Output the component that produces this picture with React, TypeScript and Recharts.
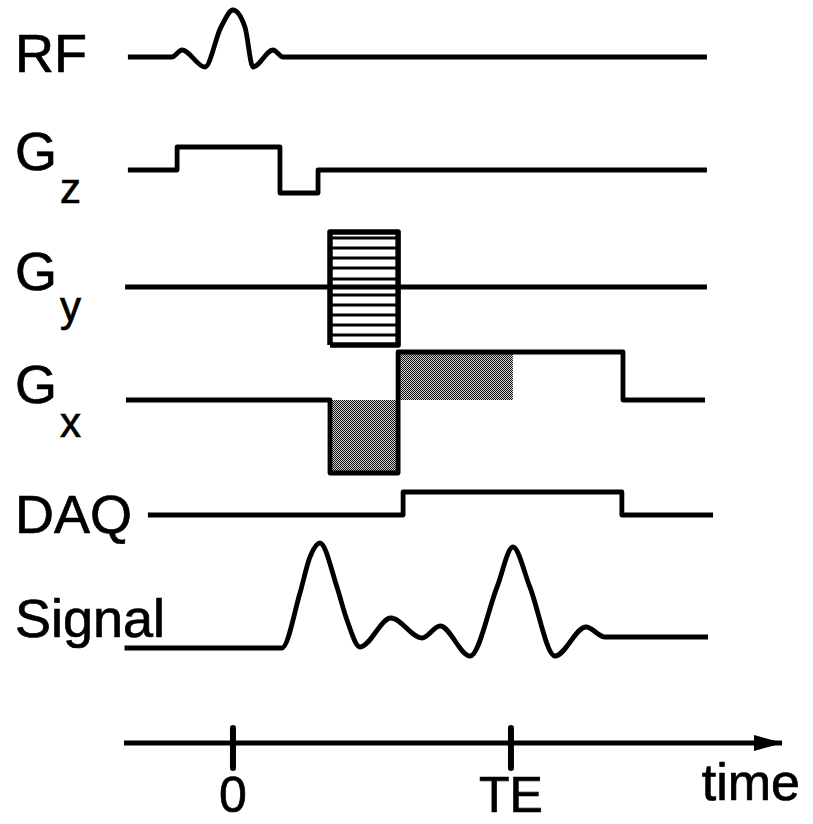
import { ComposedChart, Line, Area, XAxis, YAxis, ReferenceDot, Label } from "recharts";

// time axis: 0 = centre of the RF pulse, TE = echo time (arbitrary units)
const TE = 10;
const timeRange = [-3.92, 19.75];
const timeTicks = [0, TE];

// channel rows, top to bottom
const channelNames = ["RF", "G", "G", "G", "DAQ", "Signal"];
const channelSubs = ["", "z", "y", "x", "", ""];

// RF excitation (sinc-like pulse)
const rfTime = [-3.78, -2.2, -1.83, -1.01, -0.43, 0, 0.43, 0.72, 1.44, 1.8, 17.05];
const rfAmp = [0, 0, 7, -10, 30, 47, 30, -10, 7, 0, 0];

// slice select gradient
const gzTime = [-3.78, -2.01, -2.01, 1.69, 1.69, 3.06, 3.06, 17.05];
const gzAmp = [0, 0, 23, 23, -23, -23, 0, 0];

// phase encode gradient
const gyTime = [-3.88, 17.05];
const gyAmp = [0, 0];
const gyLobe = [3.49, 5.94];
const gyLimits = [-58, 55];
const gySteps = [49, 39, 29, 19, 8, 0, -8, -18, -28, -38, -48];

// readout gradient
const gxTime = [-3.85, 3.49, 3.49, 5.94, 5.94, 14.03, 14.03, 16.98];
const gxAmp = [0, 0, -73, -73, 48, 48, 0, 0];
const gxShadeNeg = [3.49, 5.94, -73];
const gxShadePos = [5.94, 10.07, 48];

// data acquisition window
const daqTime = [-3.06, 6.12, 6.12, 13.99, 13.99, 17.27];
const daqAmp = [0, 0, 23, 23, 0, 0];

// received signal (FID + echo)
const sigTime = [-3.9, 1.76, 2.41, 2.77, 3.13, 3.74, 4.1, 4.57, 5.68, 6.8, 7.45, 8.53, 9.5, 10.07, 10.68, 11.58, 12.7, 13.38, 17.09];
const sigAmp = [0, 0, 55, 91, 105, 61, 28, 1, 30, 10, 22, -8, 61, 101, 61, -8, 21, 11, 11];

// layout
const W = 813;
const H = 824;
const PLOT_BOTTOM = 743;
const ROW_Y = [57, 170, 287, 400, 515, 648];
const LABEL_DY = [15, 0, 3, 3, 18, -11];
const SUB_DY = [0, 33, 31, 34, 0, 0];
const FONT = "'Liberation Sans', Arial, Helvetica, sans-serif";
const LW = 4.8;

const series = (time: number[], amp: number[], row: number) =>
  time.map((t, i) => ({ t, v: ROW_Y[row] - amp[i] }));

const rfData = series(rfTime, rfAmp, 0);
const gzData = series(gzTime, gzAmp, 1);
const gyData = series(gyTime, gyAmp, 2);
const gxData = series(gxTime, gxAmp, 3);
const daqData = series(daqTime, daqAmp, 4);
const sigData = series(sigTime, sigAmp, 5);

const gyBox = [
  { t: gyLobe[0], v: ROW_Y[2] - gyLimits[0] },
  { t: gyLobe[0], v: ROW_Y[2] - gyLimits[1] },
  { t: gyLobe[1], v: ROW_Y[2] - gyLimits[1] },
  { t: gyLobe[1], v: ROW_Y[2] - gyLimits[0] },
  { t: gyLobe[0], v: ROW_Y[2] - gyLimits[0] },
];
const gyStripes = gySteps.flatMap((s) => [
  { t: gyLobe[0], v: ROW_Y[2] - s },
  { t: gyLobe[1], v: ROW_Y[2] - s },
  { t: gyLobe[1], v: null },
]);

const shade = (d: number[]) => [
  { t: d[0], v: [ROW_Y[3], ROW_Y[3] - d[2]] },
  { t: d[1], v: [ROW_Y[3], ROW_Y[3] - d[2]] },
];
const gxNegData = shade(gxShadeNeg);
const gxPosData = shade(gxShadePos);

const textStyle = { fontFamily: FONT, fill: "#000", stroke: "#000", strokeWidth: 0.7 };

const ChannelTick = (props: any) => {
  const i = ROW_Y.indexOf(props.payload.value);
  if (i < 0) return null;
  return (
    <text x={15} y={props.y + LABEL_DY[i]} fontSize={54} {...textStyle}>
      {channelNames[i]}
      {channelSubs[i] ? (
        <tspan dx={3} dy={SUB_DY[i]} fontSize={42}>
          {channelSubs[i]}
        </tspan>
      ) : null}
    </text>
  );
};

const TimeTick = (props: any) => {
  const { x, y, payload } = props;
  const label = payload.value === TE ? "TE" : String(payload.value);
  return (
    <g>
      <line x1={x} x2={x} y1={y - 15} y2={y + 25} stroke="#000" strokeWidth={6} strokeLinecap="round" />
      <text x={x} y={y + 69} textAnchor="middle" fontSize={50} {...textStyle}>
        {label}
      </text>
    </g>
  );
};

const TimeLabel = (props: any) => {
  const vb = props.viewBox;
  return (
    <text x={vb.x + vb.width + 18} y={vb.y + 57} textAnchor="end" fontSize={52} {...textStyle}>
      time
    </text>
  );
};

const Arrow = (props: any) => {
  const { cx, cy } = props;
  return <polygon points={`${cx + 1},${cy} ${cx - 28},${cy - 8} ${cx - 28},${cy + 8}`} fill="#000" />;
};

const lineProps = {
  dataKey: "v",
  stroke: "#000",
  strokeWidth: LW,
  dot: false,
  activeDot: false,
  isAnimationActive: false,
  strokeLinejoin: "round" as const,
  legendType: "none" as const,
};

export default function App() {
  return (
    <div style={{ position: "absolute", left: 0, top: 0, width: W, height: H, background: "#fff" }}>
      <ComposedChart width={W} height={H} margin={{ top: 0, right: 31, bottom: 0, left: 0 }}>
        <defs>
          <pattern id="stipple" width={2} height={2} patternUnits="userSpaceOnUse">
            <rect width={2} height={2} fill="#d0d0d0" />
            <rect width={1} height={1} fill="#111" />
            <rect x={1} y={1} width={1} height={1} fill="#111" />
          </pattern>
        </defs>
        <XAxis
          type="number"
          dataKey="t"
          domain={timeRange}
          allowDataOverflow
          ticks={timeTicks}
          interval={0}
          tickSize={0}
          tickMargin={0}
          tickLine={false}
          tick={<TimeTick />}
          axisLine={{ stroke: "#000", strokeWidth: 5 }}
          height={H - PLOT_BOTTOM}
        >
          <Label content={<TimeLabel />} />
        </XAxis>
        <YAxis
          type="number"
          domain={[0, PLOT_BOTTOM]}
          reversed
          allowDataOverflow
          ticks={ROW_Y}
          interval={0}
          tickLine={false}
          axisLine={false}
          tick={<ChannelTick />}
          width={124}
        />
        <Area data={gxNegData} dataKey="v" type="linear" stroke="none" fill="url(#stipple)" fillOpacity={1} isAnimationActive={false} />
        <Area data={gxPosData} dataKey="v" type="linear" stroke="none" fill="url(#stipple)" fillOpacity={1} isAnimationActive={false} />
        <Line data={rfData} type="monotone" {...lineProps} />
        <Line data={gzData} type="linear" {...lineProps} />
        <Line data={gyData} type="linear" {...lineProps} />
        <Line data={gyStripes} type="linear" {...lineProps} strokeWidth={3} />
        <Line data={gyBox} type="linear" {...lineProps} strokeWidth={5.5} />
        <Line data={gxData} type="linear" {...lineProps} />
        <Line data={daqData} type="linear" {...lineProps} />
        <Line data={sigData} type="monotone" {...lineProps} />
        <ReferenceDot x={timeRange[1]} y={PLOT_BOTTOM} r={0} ifOverflow="visible" shape={<Arrow />} />
      </ComposedChart>
    </div>
  );
}
